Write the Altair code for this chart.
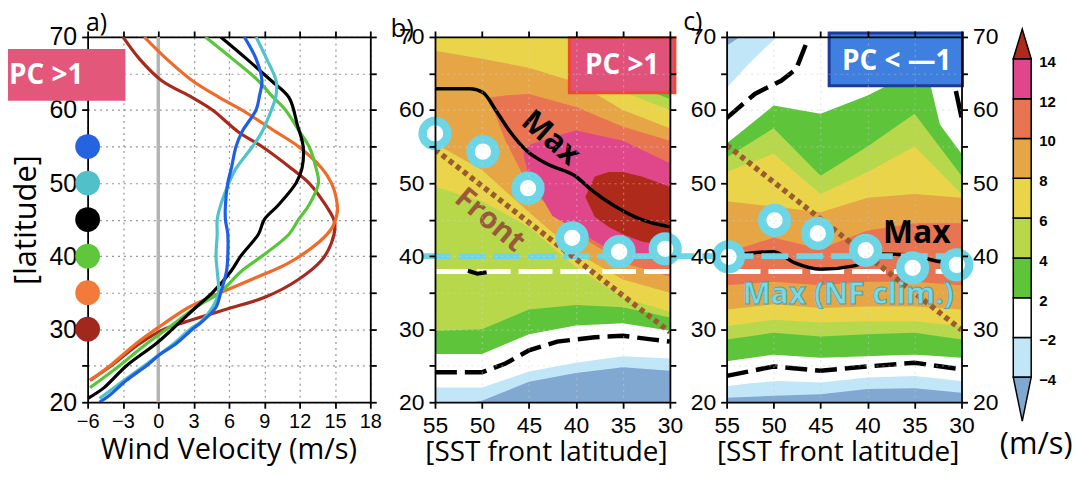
import altair as alt
import pandas as pd

W_A, W_P, W_CB, H = 284, 236, 18, 367
TFONT = "Open Sans"
LFONT = "Liberation Sans"

# ---------------- panel a : zonal wind profiles ----------------
LAT_DKRED = [23, 25, 28, 30, 31, 32.7, 34.4, 36.8, 39.5, 41.8, 44, 45, 47, 50, 52, 55, 57, 60, 61.7, 64, 67, 70]
U_DKRED = [-5.8, -4.0, -1.6, 0.5, 2.3, 5.7, 9.1, 11.9, 13.9, 14.7, 15.0, 14.9, 14.2, 12.8, 11.3, 8.8, 6.8, 4.6, 2.9, 0.3, -1.6, -3.0]
LAT_ORANGE = [23, 25, 28, 30, 33, 35, 37, 39, 42, 44, 46, 48, 50, 52, 55, 57, 60, 61.7, 64, 67, 70]
U_ORANGE = [-5.8, -4.1, -1.9, -0.2, 2.6, 5.3, 8.2, 11.0, 13.7, 14.8, 15.2, 15.1, 14.7, 13.9, 11.9, 10.0, 7.1, 5.2, 2.9, 0.7, -1.2]
LAT_GREEN = [22, 25, 28, 30, 33, 35, 38, 40, 43, 45, 47, 50, 52, 55, 57, 60, 62, 64, 67, 70]
U_GREEN = [-5.8, -3.3, -1.0, 0.7, 3.2, 5.2, 7.1, 8.8, 11.1, 11.9, 12.8, 13.6, 13.4, 12.8, 12.0, 10.8, 9.6, 8.5, 6.3, 4.0]
LAT_BLACK = [20.5, 22, 25, 28, 30, 33, 35, 38, 40, 43, 45, 47, 50, 52, 55, 58, 61.7, 64, 67, 70]
U_BLACK = [-6.0, -4.6, -2.7, -0.2, 1.2, 3.2, 4.6, 6.2, 7.0, 8.5, 9.0, 10.2, 11.7, 12.2, 12.3, 11.8, 11.1, 9.6, 7.5, 5.3]
LAT_CYAN = [20.5, 23, 25, 28, 30, 31, 33, 35, 38, 40, 43, 45, 47, 50, 52, 55, 57, 60, 62, 64, 67, 70]
U_CYAN = [-5.0, -2.9, -1.2, 1.3, 2.7, 3.6, 4.6, 5.1, 5.0, 4.9, 5.0, 5.0, 5.3, 6.0, 6.6, 8.0, 8.8, 9.6, 10.0, 10.0, 9.2, 8.3]
LAT_BLUE = [20, 21, 23, 25, 26.5, 28, 30, 31, 33, 35, 38, 40, 43, 45, 47, 50, 52, 55, 57, 60, 62, 64, 67, 70]
U_BLUE = [-5.0, -4.1, -2.7, -1.0, 0.1, 1.5, 2.9, 3.7, 4.9, 5.3, 5.8, 5.9, 5.9, 5.7, 5.7, 5.9, 6.2, 6.6, 7.1, 8.3, 8.6, 8.8, 8.3, 7.3]

PROFILE_COLORS = ["#a82a1c", "#f06a28", "#58c63a", "#000000", "#4ec3cc", "#1f5ee6"]
DOT_LAT = [55, 50, 45, 40, 35, 30]
DOT_U = [-6, -6, -6, -6, -6, -6]
DOT_COLORS = ["#2563e0", "#52c0c8", "#000000", "#5ec73a", "#f27a3a", "#a0281c"]
ZERO_U = [0]

A_XTICKS = [-6, -3, 0, 3, 6, 9, 12, 15, 18]
Y_TICKS = [20, 25, 30, 35, 40, 45, 50, 55, 60, 65, 70]
F_XTICKS = [55, 50, 45, 40, 35, 30]

# ---------------- contour colours (m/s) ----------------
CB_LO = [-4, -2, 2, 4, 6, 8, 10, 12]
CB_HI = [-2, 2, 4, 6, 8, 10, 12, 14]
CB_LABELS = ["\u22124", "\u22122", "2", "4", "6", "8", "10", "12", "14"]
COL_LT4 = "#80a8d0"
CB_COLORS = ["#c0e6f8", "#ffffff", "#5ec43a", "#b8d84c", "#ead44a", "#e6a646", "#e87452", "#e0468a"]
COL_GT14 = "#b02a1c"

# ---------------- panel b : PC > 1 ----------------
B_X = [55, 50, 45, 40, 35, 30]
B_FLOOR = [19, 19, 19, 19, 19, 19]
B_CEIL = [72, 72, 72, 72, 72, 72]
B_M4_LO = [19.0, 20.2, 22.8, 24.0, 24.8, 24.3]
B_M2_LO = [22.0, 22.0, 24.2, 25.4, 26.3, 26.0]
B_P2_LO = [26.6, 26.6, 29.3, 30.5, 30.8, 29.8]
B_P4_LO = [29.8, 30.0, 32.7, 33.3, 33.0, 31.6]
B_P4_HI = [72, 72, 72, 72, 64.0, 61.5]
B_P6_LO = [49.5, 47.5, 44.0, 38.5, 34.3, 32.4]
B_P6_HI = [72, 72, 70.5, 69.5, 62.5, 60.0]
B_P8_LO = [55.4, 51.8, 46.0, 40.5, 36.8, 35.0]
B_P8_HI = [68.1, 67.0, 65.8, 63.8, 60.0, 57.5]
B_P10_X = [49.3, 47.5, 45, 40, 35, 30]
B_P10_LO = [61.7, 55.8, 49.5, 43.1, 39.1, 37.2]
B_P10_HI = [61.7, 62.0, 62.2, 60.4, 57.7, 55.8]
B_P12_X = [45.6, 45, 42.5, 40, 35, 30]
B_P12_LO = [54.0, 51.0, 45.5, 43.6, 39.8, 39.4]
B_P12_HI = [54.0, 55.2, 56.3, 57.2, 55.8, 52.7]
B_P14_X = [39, 38, 36.5, 35, 33, 30]
B_P14_LO = [48.1, 45.4, 44.0, 43.0, 42.0, 41.3]
B_P14_HI = [48.1, 50.9, 51.5, 51.5, 50.9, 49.5]

B_MAX_X = [55, 51.3, 49.9, 48.5, 47.1, 45.3, 43.2, 40, 38.3, 35.8, 33, 30]
B_MAX_LAT = [62.9, 62.9, 62.4, 59.9, 57.2, 54.5, 52.7, 50.9, 49.0, 46.8, 45.0, 44.0]
B_BLIP_X = [51.5, 50.5, 49.5]
B_BLIP_LAT = [38.0, 37.6, 37.8]
B_ZERO_X = [55, 50, 47.5, 45, 42, 38, 35, 32, 30]
B_ZERO_LAT = [24.1, 24.1, 25.3, 27.1, 28.3, 28.9, 29.1, 28.6, 28.3]
B_FRONT_X = [55, 30]
B_FRONT_LAT = [54.6, 29.6]
B_JET_X = [55, 49.9, 45.1, 40.4, 35.4, 30.5]
B_JET_LAT = [56.8, 54.3, 49.3, 42.5, 40.6, 41.0]
B_NF_X = [56.2, 24.6]
B_NF_LAT = [40, 40]
B_WHITE_X = [55, 30]
B_WHITE_LAT = [37.9, 37.9]

# ---------------- panel c : PC < -1 ----------------
C_X = [55, 50, 45, 40, 35, 30]
C_FLOOR = [19, 19, 19, 19, 19, 19]
C_CEIL = [72, 72, 72, 72, 72, 72]
C_M4_X = [55, 53, 50, 45, 40, 35, 30]
C_M4_LO = [20.6, 20.7, 20.9, 21.1, 21.8, 21.9, 21.3]
C_M4_HI = [68.8, 70.5, 72, 72, 72, 72, 72]
C_M2_X = [55, 52.5, 49.5, 45, 40, 35, 30]
C_M2_LO = [22.2, 22.6, 22.9, 22.7, 23.4, 23.6, 22.9]
C_M2_HI = [63.0, 66.5, 70.2, 72, 72, 72, 72]
C_P2_X = [55, 50, 45, 40, 38, 35, 33.5, 32.3, 30]
C_P2_LO = [25.6, 26.5, 26.1, 26.3, 26.4, 26.5, 26.4, 26.3, 26.1]
C_P2_HI = [55.4, 60.6, 59.5, 62.0, 63.3, 66.0, 64.5, 58.0, 54.0]
C_P4_LO = [28.6, 29.5, 29.0, 29.3, 29.5, 28.6]
C_P4_HI = [53.5, 57.5, 51.0, 55.0, 59.5, 51.0]
C_P6_LO = [30.4, 31.3, 30.9, 31.1, 31.1, 30.4]
C_P6_HI = [51.5, 54.0, 48.5, 51.5, 55.0, 48.5]
C_P8_LO = [32.7, 33.4, 32.9, 33.1, 33.1, 32.7]
C_P8_HI = [47.5, 46.8, 46.0, 48.0, 48.5, 48.0]
C_P10_LO = [36.0, 36.5, 36.0, 36.5, 36.5, 36.0]
C_P10_HI = [40.5, 42.5, 41.0, 43.5, 44.5, 44.5]

C_MAX_X = [55, 50, 47.8, 45, 41.3, 38.9, 35.8, 32.6, 30.5]
C_MAX_LAT = [40.0, 40.6, 39.1, 38.2, 38.7, 40.3, 40.2, 39.3, 38.9]
C_ZERO1_X = [55, 50, 45, 40, 35, 30]
C_ZERO1_LAT = [23.6, 24.9, 24.3, 24.9, 25.4, 24.5]
C_ZERO2_X = [55, 52, 49.2, 47.6, 46.5]
C_ZERO2_LAT = [58.9, 62.2, 64.0, 65.6, 69.2]
C_ZERO3_X = [30.6, 30.0]
C_ZERO3_LAT = [62.6, 59.0]
C_FRONT_X = [55, 30]
C_FRONT_LAT = [55.2, 29.9]
C_JET_X = [54.8, 49.9, 45.3, 40.2, 35.2, 30.5]
C_JET_LAT = [39.9, 44.9, 43.1, 40.8, 38.4, 38.8]
C_NF_X = [55, 30]
C_NF_LAT = [40, 40]
C_WHITE_X = [55, 30]
C_WHITE_LAT = [37.9, 37.9]

# ---------------- scales ----------------
XS_A = alt.Scale(domain=[-6, 18], nice=False, zero=False)
XS_F = alt.Scale(domain=[30, 55], reverse=True, nice=False, zero=False)
YS = alt.Scale(domain=[20, 70], nice=False, zero=False)
Y_LABEL_EXPR = "datum.value % 10 == 0 ? datum.label : ''"


def axis_common(**kw):
    base = dict(title=None, labelFont=LFONT, labelColor="black", tickColor="black",
                domainColor="black", domainWidth=1.8, tickWidth=1.8, tickSize=6,
                labelOverlap=False, labelFlush=False)
    base.update(kw)
    return alt.Axis(**base)


def carriers(xscale, xticks, xlab_size, xlab_pad, ylab_size, right_labels, grid_color, grid_op, zidx):
    df = pd.DataFrame({"x": [xticks[0]], "y": [Y_TICKS[0]]})
    c1 = alt.Chart(df).mark_point(opacity=0).encode(
        x=alt.X("x:Q", scale=xscale, axis=axis_common(
            orient="bottom", values=xticks, format="d", labelFontSize=xlab_size, labelPadding=xlab_pad,
            grid=True, gridDash=[2, 4], gridColor=grid_color, gridOpacity=grid_op, gridWidth=1.2, zindex=zidx)),
        y=alt.Y("y:Q", scale=YS, axis=axis_common(
            orient="left", values=Y_TICKS, labelExpr=Y_LABEL_EXPR, labelFontSize=ylab_size, labelPadding=5,
            grid=True, gridDash=[2, 4], gridColor=grid_color, gridOpacity=grid_op, gridWidth=1.2, zindex=zidx)),
    )
    if right_labels:
        yr = axis_common(orient="right", values=Y_TICKS, labelExpr=Y_LABEL_EXPR, labelFontSize=ylab_size,
                         labelPadding=5, grid=False, zindex=zidx)
    else:
        yr = axis_common(orient="right", values=Y_TICKS, labels=False, grid=False, zindex=zidx)
    c2 = alt.Chart(df).mark_point(opacity=0).encode(
        x=alt.X("x:Q", scale=xscale, axis=axis_common(orient="top", values=xticks, labels=False,
                                                      grid=False, zindex=zidx)),
        y=alt.Y("y:Q", scale=YS, axis=yr),
    )
    return [c1, c2]


def txt(text, x, y, size, color="black", weight="normal", angle=0, align="center",
        baseline="middle", font=TFONT, **kw):
    return alt.Chart(pd.DataFrame({"t": [text]})).mark_text(
        align=align, baseline=baseline, fontSize=size, fontWeight=weight, color=color,
        angle=angle, font=font, **kw).encode(text="t:N", x=alt.value(x), y=alt.value(y))


def box(x0, x1, y0, y1, fill, stroke=None, sw=0):
    kw = dict(fill=fill)
    if stroke:
        kw.update(stroke=stroke, strokeWidth=sw)
    return alt.Chart(pd.DataFrame({"b": [0]})).mark_rect(**kw).encode(
        x=alt.value(x0), x2=alt.value(x1), y=alt.value(y0), y2=alt.value(y1))


def bound_marker(x, y):
    return alt.Chart(pd.DataFrame({"b": [0]})).mark_rule(opacity=0).encode(
        x=alt.value(x), x2=alt.value(x + 4), y=alt.value(y))


def band(color, xs, lo, hi):
    df = pd.DataFrame({"x": xs, "lo": lo, "hi": hi})
    return alt.Chart(df).mark_area(color=color, clip=True, orient="vertical", interpolate="linear").encode(
        x=alt.X("x:Q", scale=XS_F, axis=None),
        y=alt.Y("lo:Q", scale=YS, axis=None),
        y2="hi:Q")


def fline(xs, lats, color, width, dash=None, cap="butt", clip=True, interp="linear"):
    df = pd.DataFrame({"x": xs, "lat": lats, "i": list(range(len(xs)))})
    kw = dict(color=color, strokeWidth=width, clip=clip, interpolate=interp, strokeCap=cap)
    if dash:
        kw["strokeDash"] = dash
    return alt.Chart(df).mark_line(**kw).encode(
        x=alt.X("x:Q", scale=XS_F, axis=None),
        y=alt.Y("lat:Q", scale=YS, axis=None),
        order="i:Q")


def jets(xs, lats):
    df = pd.DataFrame({"x": xs, "lat": lats})
    return alt.Chart(df).mark_point(shape="circle", filled=True, fill="white", stroke="#6cd6e6",
                                    strokeWidth=8.5, size=620, opacity=1, clip=False).encode(
        x=alt.X("x:Q", scale=XS_F, axis=None),
        y=alt.Y("lat:Q", scale=YS, axis=None))


# ================= panel a =================
a_layers = carriers(XS_A, A_XTICKS, 20, 3, 25, False, "#8a8a8a", 0.9, 0)
a_layers.append(alt.Chart(pd.DataFrame({"u": ZERO_U})).mark_rule(color="#b4b4b4", strokeWidth=3.5).encode(
    x=alt.X("u:Q", scale=XS_A, axis=None)))
for (lats, us), col in zip([(LAT_DKRED, U_DKRED), (LAT_ORANGE, U_ORANGE), (LAT_GREEN, U_GREEN),
                            (LAT_BLACK, U_BLACK), (LAT_CYAN, U_CYAN), (LAT_BLUE, U_BLUE)], PROFILE_COLORS):
    df = pd.DataFrame({"lat": lats, "u": us})
    a_layers.append(alt.Chart(df).mark_line(color=col, strokeWidth=3.2, clip=True, interpolate="catmull-rom").encode(
        x=alt.X("u:Q", scale=XS_A, axis=None),
        y=alt.Y("lat:Q", scale=YS, axis=None),
        order="lat:Q"))
dots = pd.DataFrame({"u": DOT_U, "lat": DOT_LAT, "c": DOT_COLORS})
a_layers.append(alt.Chart(dots).mark_circle(size=620, opacity=1, clip=False).encode(
    x=alt.X("u:Q", scale=XS_A, axis=None),
    y=alt.Y("lat:Q", scale=YS, axis=None),
    color=alt.Color("c:N", scale=None)))
a_layers += [
    box(-80, 38, 12, 64, "#e2577a"),
    txt("PC >1", -79, 39, 28, color="white", weight="bold", align="left"),
    txt("a)", 9, -1, 25, baseline="bottom"),
    txt("[latitude]", -61, 184, 31, angle=270),
    txt("Wind Velocity (m/s)", 142, 415, 29),
    bound_marker(-80, -28),
    bound_marker(0, 431),
]
panel_a = alt.layer(*a_layers).resolve_axis(x="independent", y="independent").properties(width=W_A, height=H)

# ================= panel b =================
b_layers = [
    band(COL_LT4, B_X, B_FLOOR, B_CEIL),
    band(CB_COLORS[0], B_X, B_M4_LO, B_CEIL),
    band(CB_COLORS[1], B_X, B_M2_LO, B_CEIL),
    band(CB_COLORS[2], B_X, B_P2_LO, B_CEIL),
    band(CB_COLORS[3], B_X, B_P4_LO, B_P4_HI),
    band(CB_COLORS[4], B_X, B_P6_LO, B_P6_HI),
    band(CB_COLORS[5], B_X, B_P8_LO, B_P8_HI),
    band(CB_COLORS[6], B_P10_X, B_P10_LO, B_P10_HI),
    band(CB_COLORS[7], B_P12_X, B_P12_LO, B_P12_HI),
    band(COL_GT14, B_P14_X, B_P14_LO, B_P14_HI),
]
b_layers += carriers(XS_F, F_XTICKS, 23, 6, 23, False, "#d8d8d8", 0.45, 1)
b_layers += [
    fline(B_ZERO_X, B_ZERO_LAT, "black", 4.5, dash=[22, 8]),
    fline(B_WHITE_X, B_WHITE_LAT, "white", 5, dash=[34, 8]),
    fline(B_NF_X, B_NF_LAT, "#6cd6e6", 6, dash=[27, 8], clip=False),
    fline(B_FRONT_X, B_FRONT_LAT, "#9b5b30", 5.5, dash=[5, 4]),
    fline(B_MAX_X, B_MAX_LAT, "black", 3.5, interp="monotone"),
    fline(B_BLIP_X, B_BLIP_LAT, "black", 4),
    txt("Max", 116, 102, 31, weight="bold", angle=41),
    txt("Front", 55, 184, 30, color="#9a5a3a", weight="bold", angle=40),
    jets(B_JET_X, B_JET_LAT),
    box(135, 241, 1, 56, "#e0527a", "#ee4a30", 3),
    txt("PC >1", 188, 29, 28, color="white", weight="bold"),
    txt("b)", -33, 5, 26, baseline="bottom"),
    txt("[SST front latitude]", 112, 418, 28),
]
panel_b = alt.layer(*b_layers).resolve_axis(x="independent", y="independent").properties(width=W_P, height=H)

# ================= panel c =================
c_layers = [
    band(COL_LT4, C_X, C_FLOOR, C_CEIL),
    band(CB_COLORS[0], C_M4_X, C_M4_LO, C_M4_HI),
    band(CB_COLORS[1], C_M2_X, C_M2_LO, C_M2_HI),
    band(CB_COLORS[2], C_P2_X, C_P2_LO, C_P2_HI),
    band(CB_COLORS[3], C_X, C_P4_LO, C_P4_HI),
    band(CB_COLORS[4], C_X, C_P6_LO, C_P6_HI),
    band(CB_COLORS[5], C_X, C_P8_LO, C_P8_HI),
    band(CB_COLORS[6], C_X, C_P10_LO, C_P10_HI),
]
c_layers += carriers(XS_F, F_XTICKS, 23, 6, 23, True, "#c8c8c8", 0.45, 1)
c_layers += [
    fline(C_ZERO1_X, C_ZERO1_LAT, "black", 4.5, dash=[22, 8]),
    fline(C_ZERO2_X, C_ZERO2_LAT, "black", 4.5, dash=[22, 8]),
    fline(C_ZERO3_X, C_ZERO3_LAT, "black", 4.5),
    fline(C_WHITE_X, C_WHITE_LAT, "white", 5, dash=[34, 8]),
    fline(C_MAX_X, C_MAX_LAT, "black", 3.5, interp="monotone"),
    fline(C_FRONT_X, C_FRONT_LAT, "#9b5b30", 5.5, dash=[5, 4]),
    fline(C_NF_X, C_NF_LAT, "#6cd6e6", 6, dash=[27, 8]),
    jets(C_JET_X, C_JET_LAT),
    txt("Max", 191, 197, 32, weight="bold"),
    txt("Max (NF clim.)", 122, 259, 30, color="#76dbe8", weight="bold", stroke="#4a9fb0", strokeWidth=0.8),
    box(103, 237, -4, 49, "#3f7fdf", "#1c3c9c", 3),
    txt("PC < \u20141", 171, 25, 28, color="white", weight="bold"),
    txt("c)", -34, -2, 25, baseline="bottom"),
    txt("[SST front latitude]", 112, 418, 28),
]
panel_c = alt.layer(*c_layers).resolve_axis(x="independent", y="independent").properties(width=W_P, height=H)

# ================= colour bar =================
CBX = alt.Scale(domain=[0, 1], nice=False, zero=False)
CBY = alt.Scale(domain=[-0.625, 8.55], nice=False, zero=False)
n_bins = len(CB_LO)
cb_df = pd.DataFrame({"i0": list(range(n_bins)), "i1": [i + 1 for i in range(n_bins)],
                      "x0": [0] * n_bins, "x1": [1] * n_bins, "col": CB_COLORS,
                      "lo": CB_LO, "hi": CB_HI})
cb_rects = alt.Chart(cb_df).mark_rect(stroke="black", strokeWidth=1.5).encode(
    x=alt.X("x0:Q", scale=CBX, axis=None), x2="x1:Q",
    y=alt.Y("i0:Q", scale=CBY, axis=None), y2="i1:Q",
    color=alt.Color("col:N", scale=None))
tri_top = pd.DataFrame({"x": [0, 0.5, 1], "b": [8, 8, 8], "t": [8, 8.75, 8]})
tri_bot = pd.DataFrame({"x": [0, 0.5, 1], "b": [0, 0, 0], "t": [0, -1.1, 0]})


def tri(df, color):
    return alt.Chart(df).mark_area(color=color, stroke="black", strokeWidth=1.5, orient="vertical",
                                   clip=False).encode(
        x=alt.X("x:Q", scale=CBX, axis=None),
        y=alt.Y("b:Q", scale=CBY, axis=None), y2="t:Q")


cb_lab_df = pd.DataFrame({"i": list(range(len(CB_LABELS))), "lab": CB_LABELS})
cb_labels = alt.Chart(cb_lab_df).mark_text(align="left", baseline="middle", dy=3, font=LFONT,
                                           fontSize=15, fontWeight="bold", color="black").encode(
    x=alt.value(W_CB + 8),
    y=alt.Y("i:Q", scale=CBY, axis=None),
    text="lab:N")
cbar = alt.layer(cb_rects, tri(tri_top, COL_GT14), tri(tri_bot, COL_LT4), cb_labels,
                 txt("(m/s)", 23, 410, 31)).properties(width=W_CB, height=H)


def spacer(w):
    return alt.Chart(pd.DataFrame({"s": [0]})).mark_point(opacity=0).encode(
        x=alt.value(0), y=alt.value(0)).properties(width=w, height=H)


chart = alt.hconcat(panel_a, spacer(65), panel_b, spacer(57), panel_c, spacer(52), cbar,
                    spacing=0, bounds="flush").properties(padding=0).configure_view(stroke=None)

chart.save("out.html", embed_options={"renderer": "svg", "actions": False})
